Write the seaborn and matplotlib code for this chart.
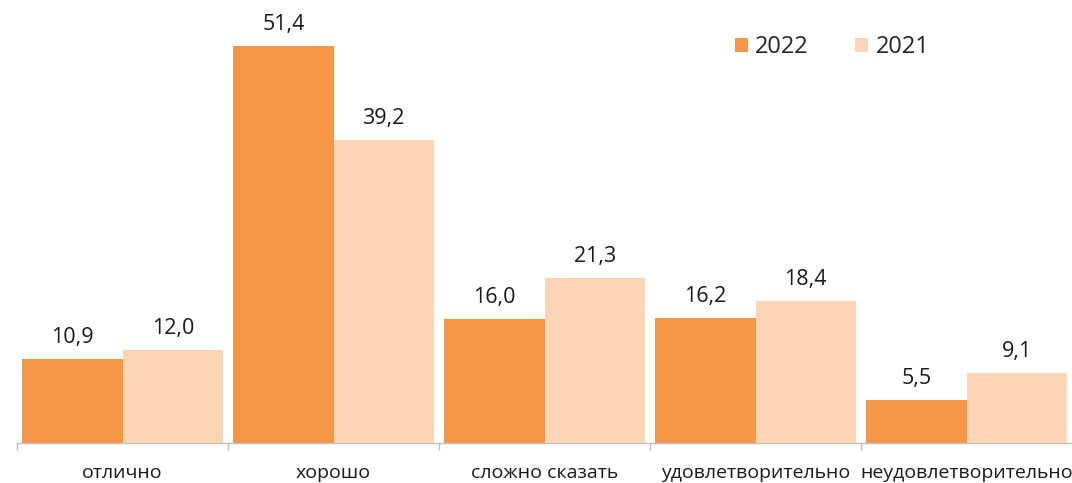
import matplotlib
matplotlib.use("Agg")
from matplotlib import pyplot as plt
from matplotlib.ticker import FixedLocator
import pandas as pd
import seaborn as sns

categories = ["отлично", "хорошо", "сложно сказать", "удовлетворительно", "неудовлетворительно"]
values_2022 = [10.9, 51.4, 16.0, 16.2, 5.5]
values_2021 = [12.0, 39.2, 21.3, 18.4, 9.1]
years = ["2022", "2021"]

df = pd.DataFrame({
    "category": categories * 2,
    "year": [years[0]] * len(categories) + [years[1]] * len(categories),
    "value": values_2022 + values_2021,
})

sns.set_style("white")
plt.rcParams["font.family"] = ["Open Sans", "DejaVu Sans"]

fig = plt.figure(figsize=(10.72, 4.83), dpi=100)
ax = fig.add_axes([0.016, 0.083, 0.984, 0.911])

palette = {"2022": "#F79646", "2021": "#FCD5B4"}
sns.barplot(data=df, x="category", y="value", hue="year", hue_order=years,
            palette=palette, width=0.95, saturation=1, linewidth=0, ax=ax)

for cont in ax.containers:
    labels = [f"{b.get_height():.1f}".replace(".", ",") for b in cont]
    ax.bar_label(cont, labels=labels, padding=8, fontsize=15.5, color="#1a1a1a")

ax.set_xlim(-0.5, 4.5)
ax.set_ylim(0, 57)
ax.set_xlabel("")
ax.set_ylabel("")
ax.set_yticks([])
for side in ["top", "right", "left"]:
    ax.spines[side].set_visible(False)
ax.spines["bottom"].set_color("#bfbfbf")
ax.spines["bottom"].set_linewidth(1)

ax.tick_params(axis="x", which="major", length=0, pad=15, labelsize=14, labelcolor="#1a1a1a")
ax.xaxis.set_minor_locator(FixedLocator([-0.5, 0.5, 1.5, 2.5, 3.5]))
ax.tick_params(axis="x", which="minor", bottom=True, length=5, color="#bfbfbf", width=1)

leg = ax.legend(loc="upper right", bbox_to_anchor=(0.885, 0.975), ncol=2, frameon=False,
                fontsize=17, handlelength=0.55, handleheight=0.55, columnspacing=2.0,
                handletextpad=0.3)

fig.savefig("out.png", dpi=100)
